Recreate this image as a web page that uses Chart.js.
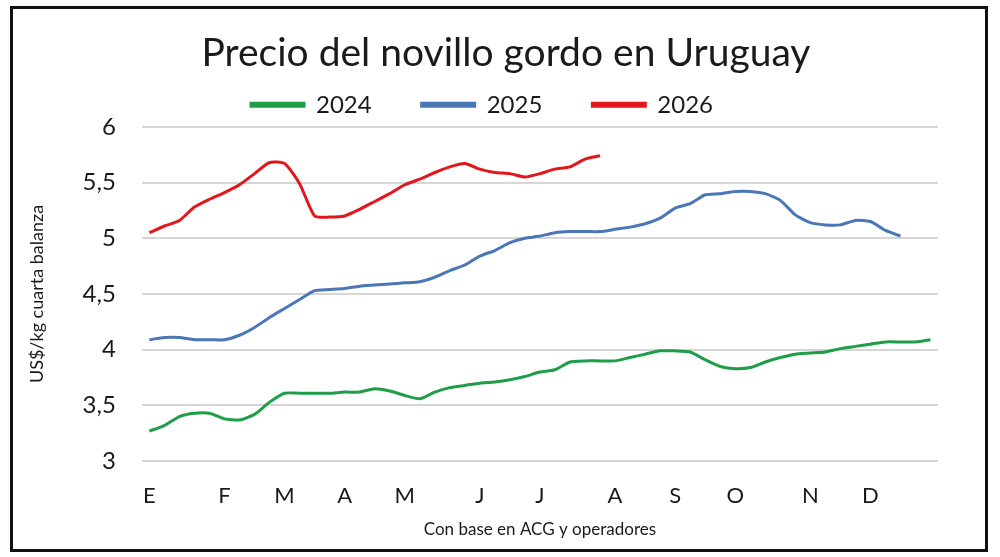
<!DOCTYPE html>
<html>
<head>
<meta charset="utf-8">
<script src="https://cdn.jsdelivr.net/npm/chart.js@4/dist/chart.umd.min.js"></script>
<style>
  html, body { margin: 0; padding: 0; background: #fff; }
  #wrap { position: relative; width: 1000px; height: 557px; }
  #frame { position: absolute; left: 10px; top: 6px; width: 972px; height: 540px; border: 3px solid #111; pointer-events: none; }
</style>
</head>
<body>
<div id="wrap">
  <canvas id="novilloChart"></canvas>
  <div id="frame"></div>
</div>
<script>
// Semanas del año (53), con la inicial del mes en la semana en que empieza
const weekLabels = [
  'E', '', '', '', '', 'F', '', '', '', 'M', '', '', '', 'A', '', '', '', 'M', '', '', '', '',
  'J', '', '', '', 'J', '', '', '', '', 'A', '', '', '', 'S', '', '', '', 'O', '', '', '', '',
  'N', '', '', '', 'D', '', '', '', ''
];

// US$/kg cuarta balanza
const values2024 = [
  3.27, 3.32, 3.40, 3.43, 3.43, 3.38, 3.37, 3.42, 3.53, 3.61, 3.61, 3.61, 3.61, 3.62,
  3.62, 3.65, 3.63, 3.59, 3.56, 3.62, 3.66, 3.68, 3.70, 3.71, 3.73, 3.76, 3.80, 3.82,
  3.89, 3.90, 3.90, 3.90, 3.93, 3.96, 3.99, 3.99, 3.98, 3.91, 3.85, 3.83, 3.84, 3.89,
  3.93, 3.96, 3.97, 3.98, 4.01, 4.03, 4.05, 4.07, 4.07, 4.07, 4.09
];
const values2025 = [
  4.09, 4.11, 4.11, 4.09, 4.09, 4.09, 4.13, 4.20, 4.29, 4.37, 4.45, 4.53, 4.54, 4.55,
  4.57, 4.58, 4.59, 4.60, 4.61, 4.65, 4.71, 4.76, 4.84, 4.89, 4.96, 5.00, 5.02, 5.05,
  5.06, 5.06, 5.06, 5.08, 5.10, 5.13, 5.18, 5.27, 5.31, 5.39, 5.40, 5.42, 5.42, 5.40,
  5.34, 5.21, 5.14, 5.12, 5.12, 5.16, 5.15, 5.07, 5.02
];
const values2026 = [
  5.05, 5.11, 5.16, 5.28, 5.35, 5.41, 5.48, 5.58, 5.68, 5.67, 5.49, 5.20, 5.19, 5.20,
  5.26, 5.33, 5.40, 5.48, 5.53, 5.59, 5.64, 5.67, 5.62, 5.59, 5.58, 5.55, 5.58, 5.62,
  5.64, 5.71, 5.74
];

const yTicks = [3, 3.5, 4, 4.5, 5, 5.5, 6];

// Colores
const greenColor = '#1f9e49';
const blueColor = '#4a77b6';
const redColor = '#e2171b';
const textColor = '#1a1a1a';
const gridColor = '#d6d6d6';

const fontFamily = 'Lato, "Open Sans", sans-serif';

function lineDataset(label, data, color) {
    return {
        label: label,
        data: data,
        borderColor: color,
        backgroundColor: color,
        borderWidth: 3,
        pointRadius: 0,
        tension: 0.2,
        fill: false
    };
}

const ctx = document.getElementById('novilloChart');

new Chart(ctx.getContext('2d'), {
    type: 'line',
    data: {
        labels: weekLabels,
        datasets: [
            lineDataset('2024', values2024, greenColor),
            lineDataset('2025', values2025, blueColor),
            lineDataset('2026', values2026, redColor)
        ]
    },
    options: {
        responsive: true,
        maintainAspectRatio: false,
        animation: false,
        layout: {
            padding: { left: 26, right: 62, top: 0, bottom: 17 }
        },
        plugins: {
            title: {
                display: true,
                text: 'Precio del novillo gordo en Uruguay',
                color: textColor,
                font: { family: fontFamily, size: 39, weight: 'normal' },
                padding: { top: 30, bottom: -34 }
            },
            legend: {
                display: true,
                position: 'top',
                labels: {
                    color: textColor,
                    font: { family: fontFamily, size: 24 },
                    boxWidth: 53,
                    boxHeight: 3,
                    padding: 50
                }
            },
            tooltip: { enabled: false }
        },
        scales: {
            x: {
                offset: true,
                grid: { display: false },
                border: { display: false },
                ticks: {
                    autoSkip: false,
                    maxRotation: 0,
                    color: textColor,
                    font: { family: fontFamily, size: 22 },
                    padding: 14
                },
                title: {
                    display: true,
                    text: 'Con base en ACG y operadores',
                    color: textColor,
                    font: { family: fontFamily, size: 17 },
                    padding: { top: -4, bottom: 0 }
                }
            },
            y: {
                min: 3,
                max: 6,
                afterBuildTicks: function(scale) {
                    scale.ticks = yTicks.map(v => ({ value: v }));
                },
                grid: { color: gridColor, lineWidth: 2, drawTicks: false },
                border: { display: false },
                ticks: {
                    color: textColor,
                    font: { family: fontFamily, size: 24 },
                    padding: 26,
                    callback: function(value) {
                        return value.toLocaleString('es-UY');
                    }
                },
                title: {
                    display: true,
                    text: 'US$/kg cuarta balanza',
                    color: textColor,
                    font: { family: fontFamily, size: 18 },
                    padding: { top: 0, bottom: 9 }
                }
            }
        }
    },
    plugins: [{
        // El título del original está algo corrido a la derecha
        id: 'shiftTitle',
        afterLayout: (chart) => {
            if (chart.titleBlock) {
                chart.titleBlock.left += 24;
                chart.titleBlock.right += 24;
            }
        }
    }]
});
</script>
</body>
</html>
